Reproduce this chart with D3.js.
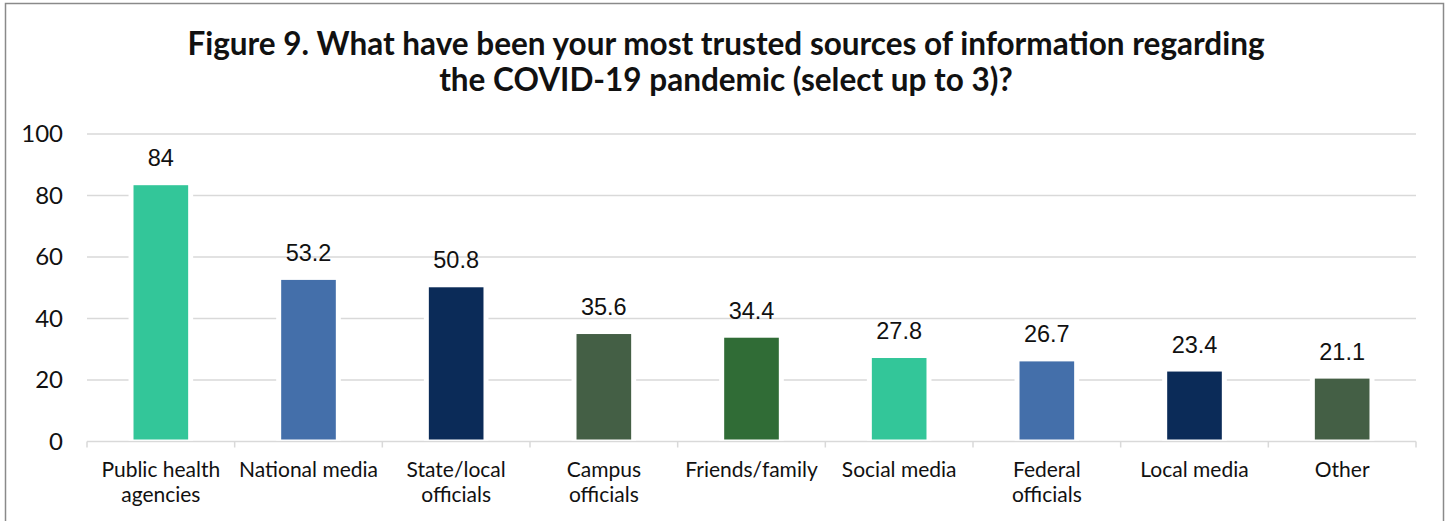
<!DOCTYPE html>
<html><head><meta charset="utf-8">
<script src="https://cdn.jsdelivr.net/npm/d3@7"></script>
<style>body{margin:0;background:#fff}svg{display:block}</style>
</head><body>
<svg id="c" width="1448" height="521"></svg>
<script>
const categories = [["Public health","agencies"],["National media"],["State/local","officials"],["Campus","officials"],["Friends/family"],["Social media"],["Federal","officials"],["Local media"],["Other"]];
const values = [84, 53.2, 50.8, 35.6, 34.4, 27.8, 26.7, 23.4, 21.1];
const valueLabels = ["84","53.2","50.8","35.6","34.4","27.8","26.7","23.4","21.1"];
const colors = ["#33c699","#446faa","#0b2b58","#445f45","#306c36","#33c699","#446faa","#0b2b58","#445f45"];
const yTicks = [0,20,40,60,80,100];
const titleLines = ["Figure 9. What have been your most trusted sources of information regarding","the COVID-19 pandemic (select up to 3)?"];

const svg = d3.select("#c");
svg.append("rect").attr("x",5.5).attr("y",3.5).attr("width",1438).attr("height",530)
  .attr("fill","#fff").attr("stroke","#8a8a8a").attr("stroke-width",1.5);

svg.selectAll("text.title").data(titleLines).join("text")
  .attr("x",726).attr("y",(d,i)=>55+i*36).attr("text-anchor","middle")
  .attr("font-family","Lato").attr("font-weight","bold").attr("font-size",31.5).attr("fill","#111")
  .text(d=>d);

const x = d3.scaleBand().domain(d3.range(values.length)).range([87,1416]).paddingInner(0.63).paddingOuter(0.315);
const xb = d3.scaleBand().domain(d3.range(values.length)).range([87,1416]);
const y = d3.scaleLinear().domain([0,100]).range([441.5,134]);

// gridlines
svg.append("g").selectAll("line").data(yTicks.filter(t=>t>0)).join("line")
  .attr("x1",87).attr("x2",1416).attr("y1",d=>y(d)).attr("y2",d=>y(d))
  .attr("stroke","#d9d9d9").attr("stroke-width",1.5);

// y axis labels
const ya = svg.append("g").attr("transform","translate(87,0)")
  .call(d3.axisLeft(y).tickValues(yTicks).tickSize(0).tickPadding(24));
ya.select(".domain").remove();
ya.selectAll("text").attr("font-family","Lato").attr("font-size",24).attr("fill","#111");

// x axis
svg.append("line").attr("x1",87).attr("x2",1416).attr("y1",y(0)).attr("y2",y(0)).attr("stroke","#d9d9d9").attr("stroke-width",1.5);
svg.append("g").selectAll("line").data(d3.range(values.length+1)).join("line")
  .attr("x1",d=>d<values.length?xb(d):1416).attr("x2",d=>d<values.length?xb(d):1416)
  .attr("y1",y(0)).attr("y2",y(0)+6).attr("stroke","#d9d9d9").attr("stroke-width",1.5);

// bars with white halo
const g = svg.append("g");
g.selectAll("rect.halo").data(values).join("rect").attr("class","halo")
  .attr("x",(d,i)=>x(i)-5).attr("width",x.bandwidth()+10)
  .attr("y",d=>y(d)-2).attr("height",d=>y(0)-y(d)+1).attr("fill","#fff");
g.selectAll("rect.bar").data(values).join("rect").attr("class","bar")
  .attr("x",(d,i)=>x(i)).attr("width",x.bandwidth())
  .attr("y",d=>y(d)+2).attr("height",d=>y(0)-y(d)-4).attr("fill",(d,i)=>colors[i]);

g.selectAll("text.val").data(values).join("text")
  .attr("x",(d,i)=>x(i)+x.bandwidth()/2).attr("y",d=>y(d)-17)
  .attr("text-anchor","middle").attr("font-family","Liberation Sans, Arial").attr("font-size",23.5).attr("fill","#111")
  .text((d,i)=>valueLabels[i]);

// category labels
const cl = svg.append("g").selectAll("text").data(categories).join("text")
  .attr("text-anchor","middle").attr("font-family","Lato").attr("font-size",21).attr("fill","#111")
  .attr("transform",(d,i)=>`translate(${xb(i)+xb.bandwidth()/2},477)`);
cl.selectAll("tspan").data(d=>d).join("tspan").attr("x",0).attr("dy",(d,i)=>i?25:0).text(d=>d);
</script>
</body></html>
